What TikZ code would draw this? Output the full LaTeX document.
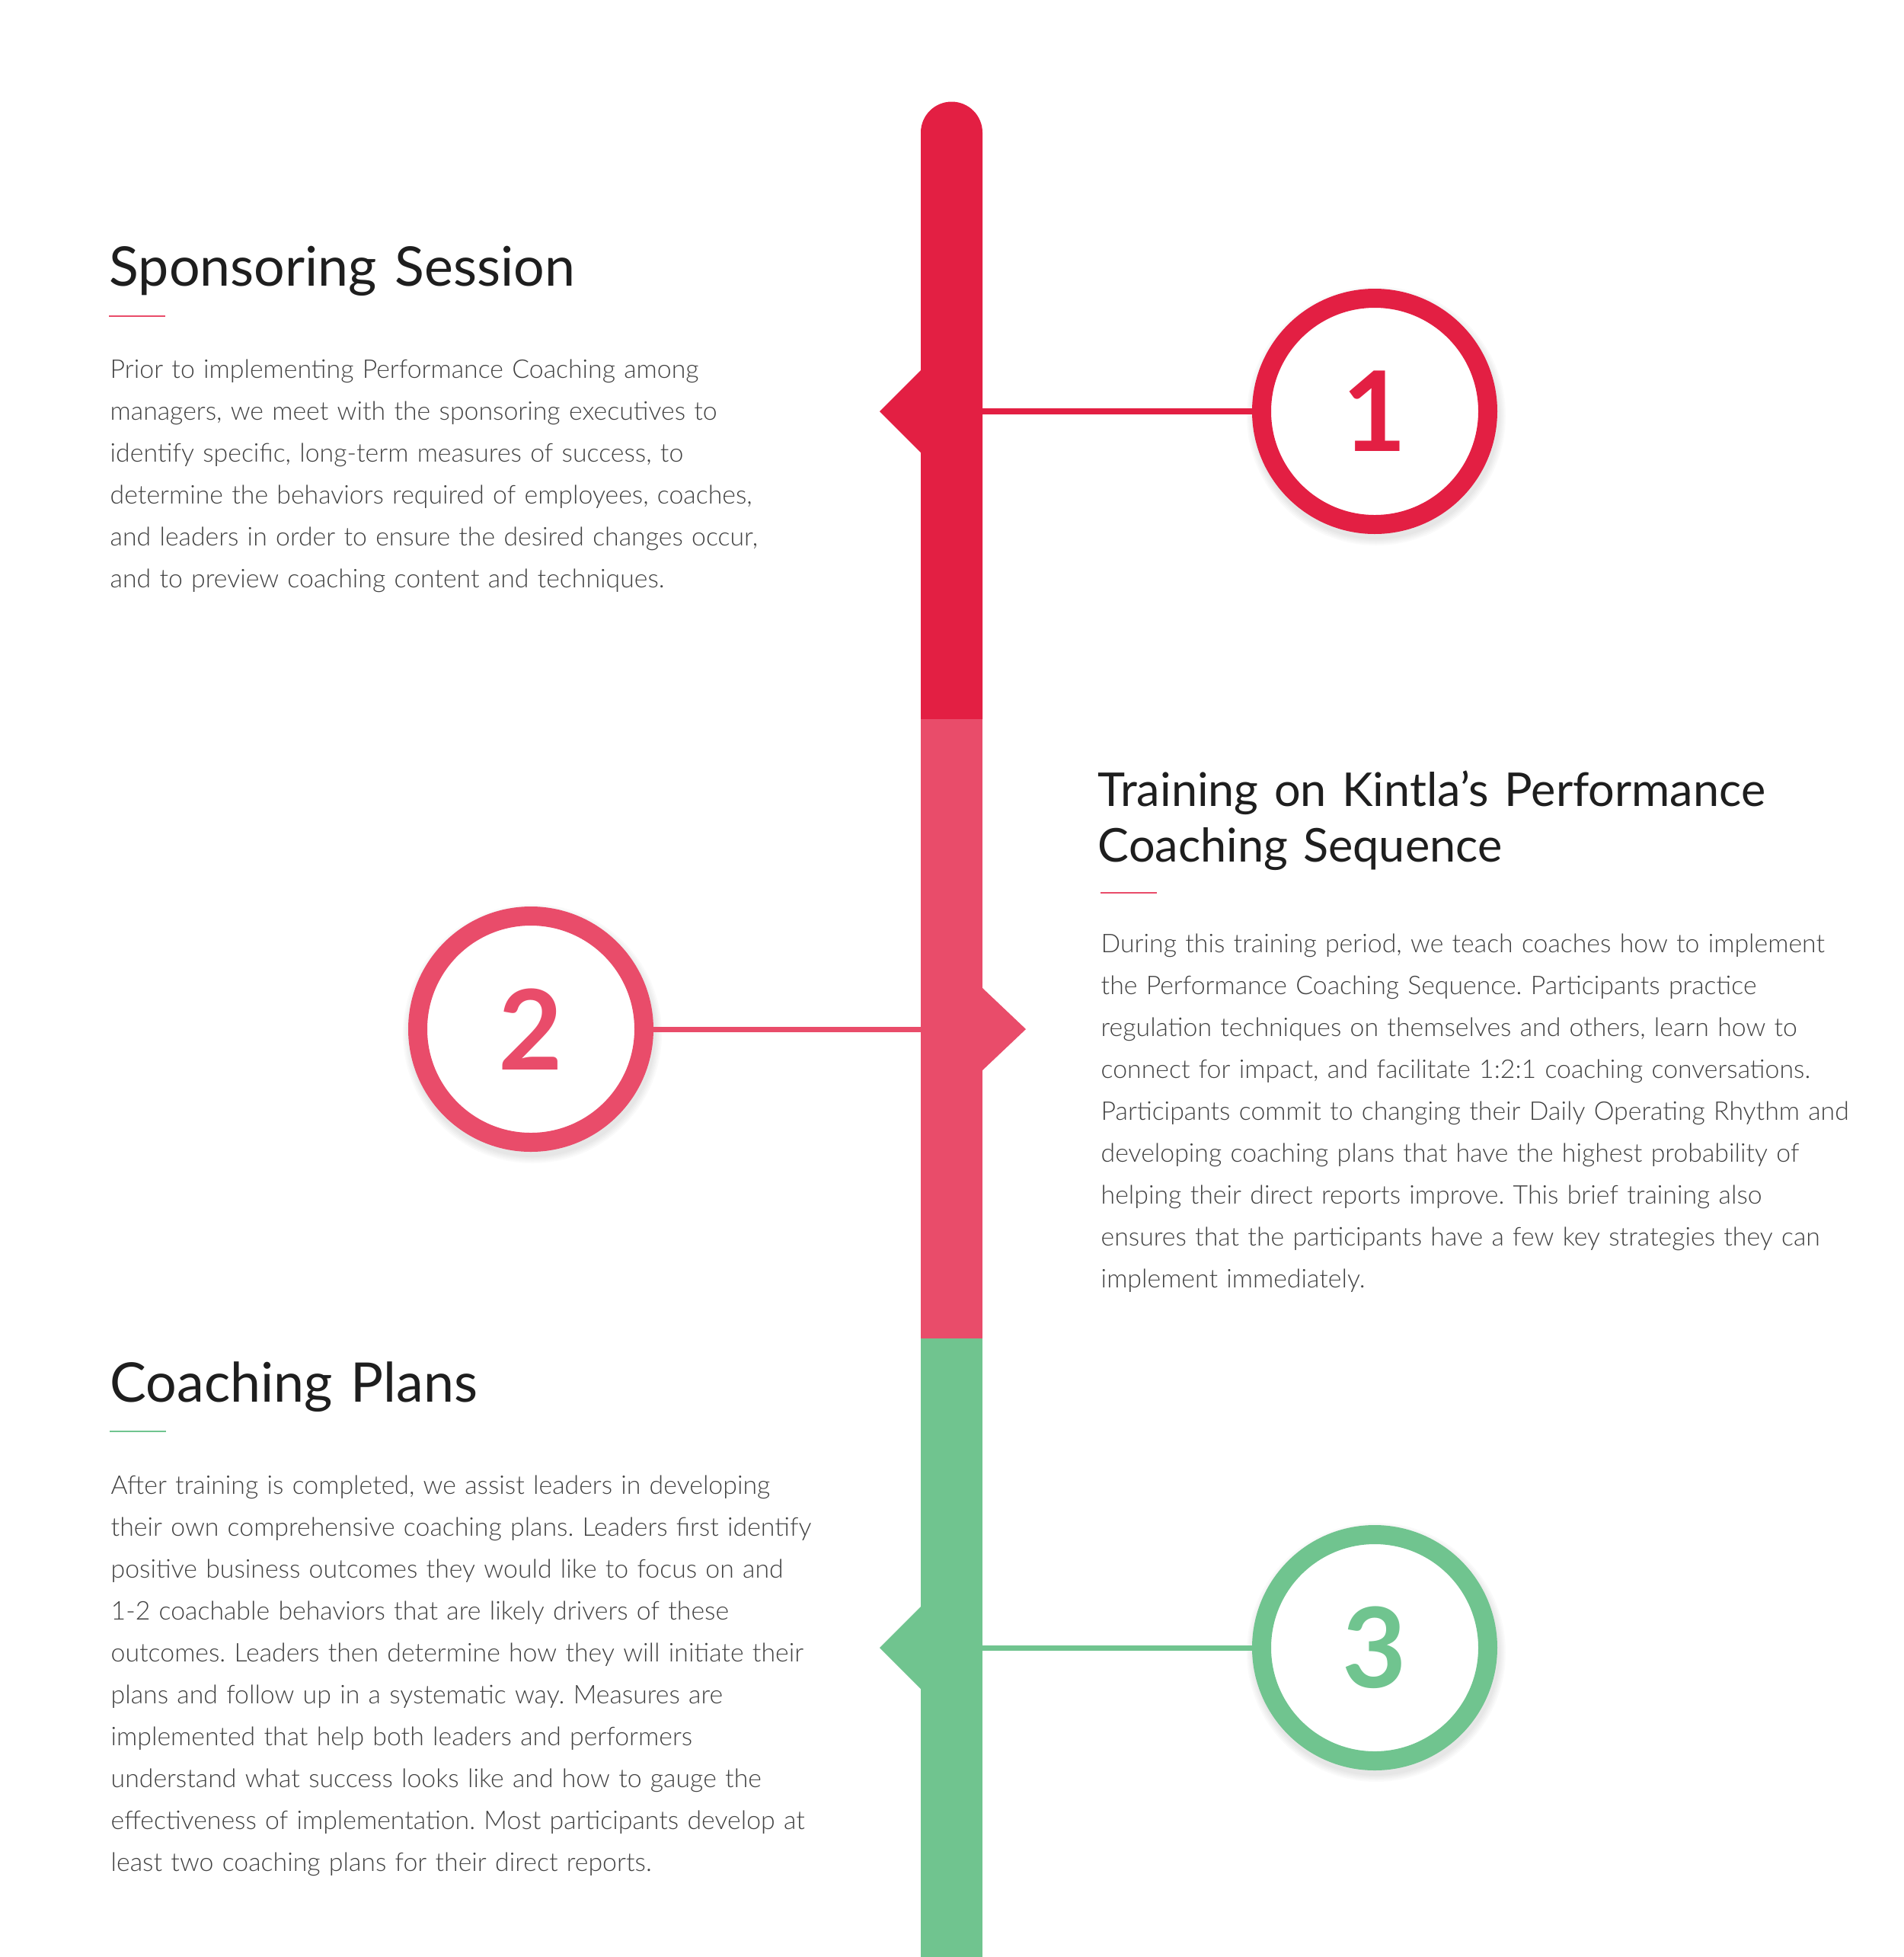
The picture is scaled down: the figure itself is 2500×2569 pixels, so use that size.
\documentclass[tikz,border=0pt]{standalone}
\usepackage{fontspec}
\setmainfont{Lato}
\newfontfamily\lightfont{Lato Light}
\frenchspacing
\definecolor{cred}{HTML}{E31F43}
\definecolor{cpink}{HTML}{E94C6A}
\definecolor{cgreen}{HTML}{70C48F}
\definecolor{ctitle}{HTML}{1E1E1E}
\definecolor{cbody}{HTML}{424242}
\tikzset{
  numcirc/.style={circle, draw=#1, text=#1, fill=white, line width=7.11pt, minimum size=29.7mm, inner sep=0pt,
    font=\fontsize{41.5}{41.5}\selectfont\bfseries},
  conn/.style={draw=#1, line width=2pt},
  uline/.style={draw=#1, line width=0.75pt},
  titletext/.style={anchor=base west, inner sep=0pt, align=left, text width=110mm, text=ctitle,
    font=\fontsize{20.4}{21}\selectfont},
  bodytext/.style={anchor=base west, inner sep=0pt, align=left, text width=110mm, text=cbody,
    font=\lightfont\fontsize{9.62}{15.65}\selectfont},
}
\begin{document}
\begin{tikzpicture}[x=0.1mm,y=-0.1mm]
\useasboundingbox (0,0) rectangle (2500,2569);
\fill[white] (0,0) rectangle (2500,2569);
% timeline bar
\fill[cred] (1209,944) -- (1209,174) arc[start angle=180, end angle=360, radius=40.5] -- (1290,944) -- cycle;
\fill[cpink] (1209,944) rectangle (1290,1757);
\fill[cgreen] (1209,1757) rectangle (1290,2569);
% pointers
\fill[cred] (1209,486) -- (1155,540) -- (1209,594) -- cycle;
\fill[cpink] (1290,1297) -- (1347,1351) -- (1290,1405) -- cycle;
\fill[cgreen] (1209,2109) -- (1155,2163) -- (1209,2217) -- cycle;
\coordinate (b1) at (1290,540);
\coordinate (b2) at (1209,1351);
\coordinate (b3) at (1290,2163);
% shadows
\foreach \cx/\cy in {1805/540, 697/1351, 1805/2163}{
  \foreach \r in {162,164,166,168,170}{
    \fill[black, opacity=0.02] (\cx+2,\cy+6) circle[radius=\r];
  }
}
% circles
\node[numcirc=cred] (c1) at (1805,540) {1};
\node[numcirc=cpink] (c2) at (697,1351) {2};
\node[numcirc=cgreen] (c3) at (1805,2163) {3};
% connectors
\draw[conn=cred] (b1) -- (c1);
\draw[conn=cpink] (c2) -- (b2);
\draw[conn=cgreen] (b3) -- (c3);
% section 1
\node[titletext] (t1) at (143,375) {Sponsoring Session};
\draw[uline=cpink] (143,415) -- (217,415);
\node[bodytext] (p1) at (144,496) {Prior to implementing Performance Coaching among\\
managers, we meet with the sponsoring executives to\\
identify specific, long-term measures of success, to\\
determine the behaviors required of employees, coaches,\\
and leaders in order to ensure the desired changes occur,\\
and to preview coaching content and techniques.};
% section 2
\node[titletext, font=\fontsize{17.4}{21}\selectfont] (t2) at (1441,1058) {Training on Kintla’s Performance\\Coaching Sequence};
\draw[uline=cpink] (1445,1172) -- (1519,1172);
\node[bodytext] (p2) at (1445,1250) {During this training period, we teach coaches how to implement\\
the Performance Coaching Sequence. Participants practice\\
regulation techniques on themselves and others, learn how to\\
connect for impact, and facilitate 1:2:1 coaching conversations.\\
Participants commit to changing their Daily Operating Rhythm and\\
developing coaching plans that have the highest probability of\\
helping their direct reports improve. This brief training also\\
ensures that the participants have a few key strategies they can\\
implement immediately.};
% section 3
\node[titletext] (t3) at (144,1840) {Coaching Plans};
\draw[uline=cgreen] (144,1879) -- (218,1879);
\node[bodytext] (p3) at (145,1961) {After training is completed, we assist leaders in developing\\
their own comprehensive coaching plans. Leaders first identify\\
positive business outcomes they would like to focus on and\\
1-2 coachable behaviors that are likely drivers of these\\
outcomes. Leaders then determine how they will initiate their\\
plans and follow up in a systematic way. Measures are\\
implemented that help both leaders and performers\\
understand what success looks like and how to gauge the\\
effectiveness of implementation. Most participants develop at\\
least two coaching plans for their direct reports.};
\end{tikzpicture}
\end{document}
